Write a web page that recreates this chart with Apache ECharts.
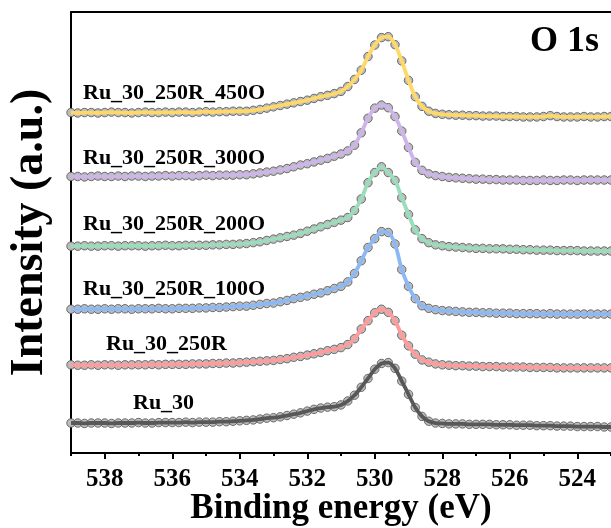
<!DOCTYPE html>
<html>
<head>
<meta charset="utf-8">
<title>O 1s XPS spectra</title>
<script src="https://cdn.jsdelivr.net/npm/echarts@6/dist/echarts.min.js"></script>
<style>
  html, body { margin: 0; padding: 0; background: #ffffff; }
  #chart { width: 611px; height: 528px; }
</style>
</head>
<body>
<div id="chart"></div>
<script>
// Binding energy grid (eV), 0.2 eV step
const energies = [
  539.0,538.8,538.6,538.4,538.2,538.0,537.8,537.6,537.4,537.2,
  537.0,536.8,536.6,536.4,536.2,536.0,535.8,535.6,535.4,535.2,
  535.0,534.8,534.6,534.4,534.2,534.0,533.8,533.6,533.4,533.2,
  533.0,532.8,532.6,532.4,532.2,532.0,531.8,531.6,531.4,531.2,
  531.0,530.8,530.6,530.4,530.2,530.0,529.8,529.6,529.4,529.2,
  529.0,528.8,528.6,528.4,528.2,528.0,527.8,527.6,527.4,527.2,
  527.0,526.8,526.6,526.4,526.2,526.0,525.8,525.6,525.4,525.2,
  525.0,524.8,524.6,524.4,524.2,524.0,523.8,523.6,523.4,523.2,
  523.0
];

// Sample names, bottom to top
const sampleNames = ['Ru_30', 'Ru_30_250R', 'Ru_30_250R_100O', 'Ru_30_250R_200O', 'Ru_30_250R_300O', 'Ru_30_250R_450O'];

// Stacked O 1s intensities (a.u.), each spectrum already vertically offset
const ru30 = [
  6.8,6.8,6.7,6.8,6.8,6.8,6.7,6.8,6.8,6.8,6.9,6.8,6.8,6.9,6.9,6.9,6.9,7.0,6.9,7.0,7.0,7.0,7.1,7.1,7.2,7.3,
  7.4,7.5,7.7,7.9,8.0,8.2,8.5,8.8,9.1,9.5,9.9,10.2,10.4,10.5,10.9,11.8,13.1,14.9,16.9,19.0,20.3,20.5,19.2,16.3,13.3,10.3,8.3,7.2,6.8,6.7,
  6.6,6.6,6.6,6.5,6.5,6.5,6.5,6.4,6.4,6.4,6.3,6.3,6.3,6.2,6.2,6.2,6.1,6.1,6.1,6.0,6.0,6.0,6.0,5.9,5.9
];
const ru30_250R = [
  20.0,19.9,19.9,20.0,19.9,20.0,20.0,19.9,20.0,20.0,20.0,20.0,20.1,20.0,20.1,20.1,20.1,20.1,20.2,20.2,20.2,20.3,20.3,20.4,20.4,20.5,
  20.6,20.7,20.8,20.9,21.0,21.2,21.4,21.7,21.9,22.2,22.5,22.8,23.2,23.5,23.9,24.6,25.9,28.1,30.0,31.8,32.6,31.9,30.0,26.7,24.3,22.4,21.1,20.6,20.2,20.0,
  19.9,19.8,19.8,19.7,19.7,19.6,19.6,19.6,19.5,19.5,19.5,19.5,19.4,19.4,19.4,19.4,19.3,19.3,19.3,19.3,19.3,19.3,19.3,19.3,19.3
];
const ru30_250R_100O = [
  32.6,32.6,32.7,32.6,32.6,32.7,32.6,32.7,32.7,32.6,32.7,32.7,32.7,32.8,32.7,32.7,32.8,32.8,32.8,32.9,32.9,33.0,33.0,33.1,33.2,33.3,
  33.3,33.5,33.7,33.9,34.0,34.3,34.6,35.0,35.3,35.6,36.0,36.3,36.8,37.3,37.8,38.8,40.7,43.6,46.6,48.6,50.2,50.0,47.4,41.6,37.8,35.0,33.4,32.8,32.5,32.3,
  32.2,32.1,32.0,31.9,31.9,31.8,31.8,31.7,31.7,31.7,31.6,31.6,31.6,31.6,31.5,31.6,31.5,31.5,31.5,31.5,31.5,31.5,31.5,31.5,31.5
];
const ru30_250R_200O = [
  46.9,46.9,47.0,46.9,46.9,47.0,47.0,46.9,47.0,47.0,47.0,46.9,47.0,47.0,47.1,47.0,47.0,47.1,47.1,47.1,47.1,47.2,47.2,47.3,47.3,47.4,
  47.5,47.7,47.9,48.2,48.5,48.8,49.1,49.4,49.8,50.3,50.8,51.3,51.8,52.3,52.8,53.4,55.0,57.6,61.3,63.6,64.9,63.6,61.8,57.9,54.1,50.6,48.6,47.7,47.2,47.0,
  46.8,46.7,46.6,46.5,46.4,46.4,46.3,46.3,46.3,46.2,46.2,46.1,46.1,46.0,46.0,46.0,45.9,45.9,45.9,45.9,45.8,45.8,45.8,45.8,45.8
];
const ru30_250R_300O = [
  62.7,62.7,62.6,62.7,62.8,62.7,62.7,62.8,62.7,62.8,62.8,62.7,62.8,62.8,62.9,62.8,62.9,62.9,62.8,62.9,63.0,62.9,63.0,63.0,63.0,63.1,
  63.1,63.3,63.5,63.7,63.9,64.2,64.5,64.9,65.3,65.6,66.0,66.4,66.8,67.3,67.8,68.5,69.8,72.6,75.9,78.2,78.9,78.3,76.3,73.0,69.3,65.9,64.1,63.3,62.9,62.7,
  62.5,62.4,62.3,62.2,62.1,62.1,62.0,62.0,61.9,61.9,61.9,61.8,61.8,61.8,61.9,61.8,61.8,61.9,61.9,61.8,61.9,61.9,61.9,61.9,61.9
];
const ru30_250R_450O = [
  77.2,77.1,77.2,77.2,77.1,77.2,77.3,77.2,77.2,77.1,77.2,77.3,77.2,77.2,77.3,77.2,77.3,77.3,77.2,77.3,77.4,77.3,77.4,77.4,77.5,77.5,
  77.5,77.7,77.9,78.2,78.5,78.8,79.1,79.4,79.7,80.0,80.4,80.8,81.1,81.5,82.0,83.1,84.7,86.8,89.9,92.5,94.2,94.4,92.6,88.9,84.5,80.8,78.6,77.5,77.0,76.8,
  76.7,76.6,76.6,76.5,76.5,76.4,76.4,76.4,76.3,76.3,76.3,76.2,76.2,76.2,76.3,76.5,76.3,76.2,76.2,76.2,76.3,76.2,76.2,76.3,76.3
];

// Labelled (major) ticks on the energy axis
const majorTicks = [524, 526, 528, 530, 532, 534, 536, 538];

const spectra = [ru30, ru30_250R, ru30_250R_100O, ru30_250R_200O, ru30_250R_300O, ru30_250R_450O];
const fitColors = ['#585858', '#ff9b9b', '#8cb8f3', '#9adcbc', '#cdb5ea', '#ffd86a'];
// Left anchor (px) of each sample caption
const captionAnchors = [[133, 404], [106, 345], [83, 290], [83, 225], [83, 159], [83, 94]];

const serif = '"Liberation Serif", "Times New Roman", serif';

const chart = echarts.init(document.getElementById('chart'), null, { renderer: 'canvas' });

const series = [];
spectra.forEach((vals, k) => {
  const pts = energies.map((e, i) => [e, vals[i]]);
  series.push({
    name: sampleNames[k] + ' data',
    type: 'scatter',
    data: pts,
    symbol: 'circle',
    symbolSize: 8.5,
    itemStyle: { color: '#bcbcbc', borderColor: '#505050', borderWidth: 0.8, opacity: 1 },
    clip: false,
    silent: true,
    z: 2
  });
});
spectra.forEach((vals, k) => {
  const pts = energies.map((e, i) => [e, vals[i]]);
  series.push({
    name: sampleNames[k] + ' fit',
    type: 'line',
    data: pts,
    showSymbol: false,
    smooth: 0.3,
    lineStyle: { color: fitColors[k], width: 3.8 },
    silent: true,
    z: 3
  });
});

const captions = sampleNames.map((name, k) => ({
  type: 'text',
  left: captionAnchors[k][0],
  top: captionAnchors[k][1] - 12,
  style: { text: name, font: 'bold 22px ' + serif, fill: '#000', textVerticalAlign: 'top' },
  z: 10
}));

chart.setOption({
  animation: false,
  backgroundColor: '#ffffff',
  grid: { left: 71, right: 0, top: 12, bottom: 75, containLabel: false, outerBoundsMode: 'none' },
  xAxis: [
    {
      type: 'value', min: 523, max: 539, interval: 1, inverse: true, position: 'bottom',
      axisLine: { show: true, onZero: false, lineStyle: { color: '#000', width: 2 } },
      axisTick: { show: true, inside: false, length: 3, lineStyle: { color: '#000', width: 2 } },
      splitLine: { show: false },
      axisLabel: {
        show: true, margin: 14, color: '#000',
        fontFamily: serif, fontWeight: 'bold', fontSize: 25,
        formatter: v => (majorTicks.indexOf(v) >= 0 ? String(v) : '')
      },
      name: 'Binding energy (eV)', nameLocation: 'middle', nameGap: 38, nameMoveOverlap: false,
      nameTextStyle: { color: '#000', fontFamily: serif, fontWeight: 'bold', fontSize: 35 }
    },
    {
      type: 'value', min: 523, max: 539, inverse: true, position: 'bottom',
      axisLine: { show: false },
      axisTick: { show: true, inside: false, length: 6, customValues: majorTicks, lineStyle: { color: '#000', width: 2 } },
      axisLabel: { show: false },
      splitLine: { show: false }
    },
    {
      type: 'value', min: 523, max: 539, inverse: true, position: 'top',
      axisLine: { show: true, onZero: false, lineStyle: { color: '#000', width: 2 } },
      axisTick: { show: false },
      axisLabel: { show: false },
      splitLine: { show: false }
    }
  ],
  yAxis: {
    type: 'value', min: 0, max: 100,
    axisLine: { show: true, onZero: false, lineStyle: { color: '#000', width: 2 } },
    axisTick: { show: false },
    axisLabel: { show: false },
    splitLine: { show: false },
    name: 'Intensity (a.u.)', nameLocation: 'middle', nameGap: 18, nameMoveOverlap: false,
    nameTextStyle: { color: '#000', fontFamily: serif, fontWeight: 'bold', fontSize: 46 }
  },
  graphic: captions.concat([{
    type: 'text',
    right: 12,
    top: 24,
    style: { text: 'O 1s', font: 'bold 36px ' + serif, fill: '#000' },
    z: 10
  }]),
  series: series
});
</script>
</body>
</html>
